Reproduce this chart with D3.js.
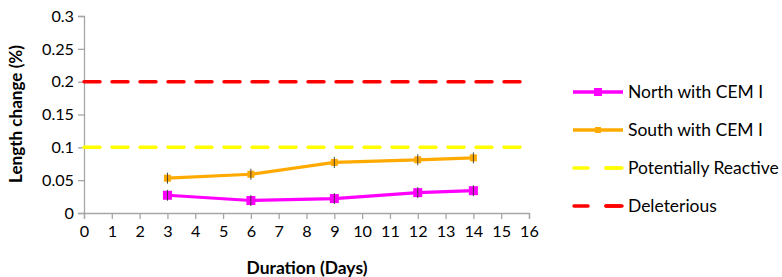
<!DOCTYPE html>
<html><head><meta charset="utf-8">
<script src="https://cdn.jsdelivr.net/npm/d3@7"></script>
<style>body{margin:0;background:#fff}svg{display:block}text{font-family:Lato,"Open Sans",sans-serif}</style>
</head><body>
<svg id="c" width="782" height="277"></svg>
<script>
const days = [3, 6, 9, 12, 14];
const north = [0.027, 0.019, 0.022, 0.031, 0.034];
const south = [0.053, 0.059, 0.077, 0.081, 0.084];
const potentiallyReactive = 0.1;
const deleterious = 0.2;
const xTicks = d3.range(0, 17);
const yTicks = [0, 0.05, 0.1, 0.15, 0.2, 0.25, 0.3];
const yTickLabels = ["0", "0.05", "0.1", "0.15", "0.2", "0.25", "0.3"];
const seriesNames = ["North with CEM I", "South with CEM I", "Potentially Reactive", "Deleterious"];

const svg = d3.select("#c");
const x = d3.scaleLinear().domain([0, 16]).range([84, 529]);
const y = d3.scaleLinear().domain([0, 0.3]).range([213, 16]);

// fit a text element's font size so its width matches a target
function fit(sel, target) {
  const w = sel.node().getComputedTextLength();
  const fs = parseFloat(sel.style("font-size"));
  sel.style("font-size", (fs * target / w).toFixed(2) + "px");
}

const axisColor = "#a6a6a6";
const ya = svg.append("g").attr("transform", `translate(${x(0)},0)`)
  .call(d3.axisLeft(y).tickValues(yTicks).tickSize(6).tickFormat((d,i)=>yTickLabels[i]));
const xa = svg.append("g").attr("transform", `translate(0,${y(0)})`)
  .call(d3.axisBottom(x).tickValues(xTicks).tickSize(6).tickFormat(d3.format("d")));
// measure tick font size
const probe = svg.append("text").style("font-size", "15px").text("0.25");
fit(probe, 32);
const tickFs = probe.style("font-size");
probe.remove();
[ya, xa].forEach(g => {
  g.select(".domain").attr("stroke", axisColor).attr("stroke-width", 1.3);
  g.selectAll(".tick line").attr("stroke", axisColor).attr("stroke-width", 1.3);
  g.selectAll(".tick text").attr("fill", "#000").style("font-size", tickFs).style("font-family", "Lato");
});
ya.selectAll(".tick text").attr("x", -10);
xa.selectAll(".tick text").attr("y", 13);

function refLine(v, color) {
  svg.append("line").attr("x1", x(0)).attr("x2", x(16)).attr("y1", y(v)).attr("y2", y(v))
    .attr("stroke", color).attr("stroke-width", 3.5).attr("stroke-dasharray", "16,12")
    .attr("stroke-linecap", "round");
}
refLine(potentiallyReactive, "#ffff00");
refLine(deleterious, "#ff0000");

const line = d3.line().x(d => x(d[0])).y(d => y(d[1]));
function series(vals, color, ms) {
  const pts = days.map((d, i) => [d, vals[i]]);
  svg.append("path").datum(pts).attr("d", line).attr("fill", "none")
    .attr("stroke", color).attr("stroke-width", 3.2);
  svg.append("g").selectAll("rect").data(pts).join("rect")
    .attr("x", d => x(d[0]) - ms/2).attr("y", d => y(d[1]) - ms/2)
    .attr("width", ms).attr("height", ms).attr("fill", color);
  svg.append("g").selectAll("line").data(pts).join("line")
    .attr("x1", d => x(d[0])).attr("x2", d => x(d[0]))
    .attr("y1", d => y(d[1]) - 5.5).attr("y2", d => y(d[1]) + 5.5)
    .attr("stroke", "#333").attr("stroke-width", 0.9);
}
series(north, "#ff00ff", 9);
series(south, "#ffaa00", 7);

const xt = svg.append("text").attr("x", 307).attr("y", 274).attr("text-anchor", "middle")
  .style("font-size", "14px").style("font-weight", "bold").text("Duration (Days)");
fit(xt, 121);
const yt = svg.append("text").attr("transform", "translate(22,114) rotate(-90)").attr("text-anchor", "middle")
  .style("font-size", "14px").style("font-weight", "bold").text("Length change (%)");
fit(yt, 138);

const legColors = ["#ff00ff", "#ffaa00", "#ffff00", "#ff0000"];
const legY = [92, 130, 168, 206];
let legFs = null;
seriesNames.forEach((n, i) => {
  const g = svg.append("g");
  if (i < 2) {
    g.append("line").attr("x1", 573).attr("x2", 623).attr("y1", legY[i]).attr("y2", legY[i])
      .attr("stroke", legColors[i]).attr("stroke-width", 3.5);
    const ms = i === 0 ? 8 : 6;
    g.append("rect").attr("x", 598 - ms/2).attr("y", legY[i] - ms/2).attr("width", ms).attr("height", ms)
      .attr("fill", legColors[i]);
  } else {
    g.append("line").attr("x1", 574).attr("x2", 622).attr("y1", legY[i]).attr("y2", legY[i])
      .attr("stroke", legColors[i]).attr("stroke-width", 3.5).attr("stroke-dasharray", "14,18")
      .attr("stroke-linecap", "round");
    g.append("line").attr("x1", 606).attr("x2", 622).attr("y1", legY[i]).attr("y2", legY[i])
      .attr("stroke", legColors[i]).attr("stroke-width", 3.5).attr("stroke-linecap", "round");
  }
  const t = g.append("text").attr("x", 628).attr("y", legY[i] + 6).style("font-size", "15px").text(n);
  if (i === 2) { fit(t, 151); legFs = t.style("font-size"); }
});
svg.selectAll("g text").filter(function(){ return this.getAttribute("x") === "628"; }).style("font-size", legFs);
</script>
</body></html>
